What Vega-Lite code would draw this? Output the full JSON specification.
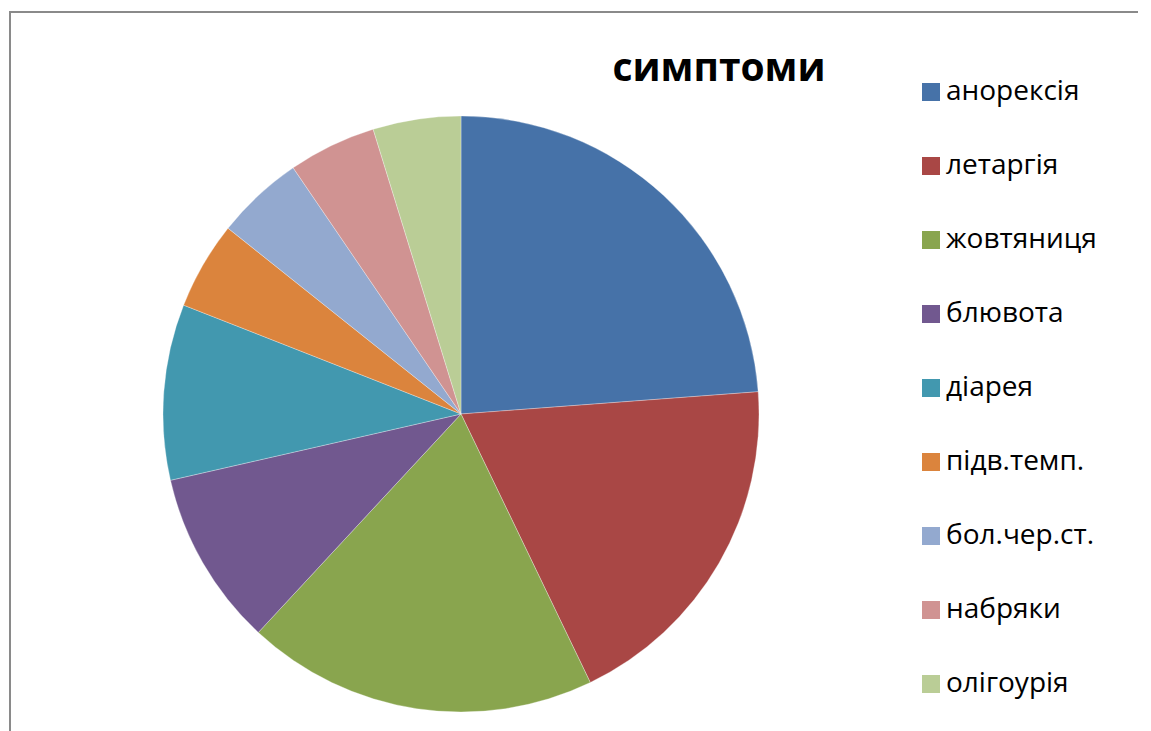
{
  "$schema": "https://vega.github.io/schema/vega-lite/v6.json",
  "autosize": {"type": "none"},
  "padding": {"left": 10, "top": 12, "right": 239, "bottom": 0},
  "width": 902,
  "height": 804,
  "background": "white",
  "view": {"stroke": "#8a8a8a", "strokeWidth": 2, "strokeDash": [902, 1708, 804]},
  "config": {
    "font": "Open Sans",
    "legend": {"strokeWidth": 2, "strokeDash": [287, 5000], "strokeColor": "#8a8a8a"}
  },
  "title": {
    "text": "симптоми",
    "orient": "top",
    "anchor": "middle",
    "dx": 258,
    "offset": -78,
    "fontSize": 39,
    "fontWeight": "bold",
    "font": "Open Sans",
    "color": "black"
  },
  "data": {
    "values": [
      {"i": 1, "symptom": "анорексія", "count": 5},
      {"i": 2, "symptom": "летаргія", "count": 4},
      {"i": 3, "symptom": "жовтяниця", "count": 4},
      {"i": 4, "symptom": "блювота", "count": 2},
      {"i": 5, "symptom": "діарея", "count": 2},
      {"i": 6, "symptom": "підв.темп.", "count": 1},
      {"i": 7, "symptom": "бол.чер.ст.", "count": 1},
      {"i": 8, "symptom": "набряки", "count": 1},
      {"i": 9, "symptom": "олігоурія", "count": 1}
    ]
  },
  "layer": [
    {
      "mark": {"type": "arc", "outerRadius": 298, "stroke": "#ffffff", "strokeWidth": 0.6, "strokeOpacity": 0.5},
      "encoding": {
        "theta": {"field": "count", "type": "quantitative", "stack": true},
        "order": {"field": "i", "type": "quantitative"},
        "color": {
          "field": "symptom",
          "type": "nominal",
          "sort": ["анорексія", "летаргія", "жовтяниця", "блювота", "діарея", "підв.темп.", "бол.чер.ст.", "набряки", "олігоурія"],
          "scale": {
            "domain": ["анорексія", "летаргія", "жовтяниця", "блювота", "діарея", "підв.темп.", "бол.чер.ст.", "набряки", "олігоурія"],
            "range": ["#4672A8", "#A94745", "#89A54E", "#71588F", "#4298AF", "#DB843D", "#93A9CF", "#D09392", "#BACD96"]
          },
          "legend": {
            "title": null,
            "orient": "none",
            "legendX": 841,
            "legendY": 0,
            "symbolType": "square",
            "symbolSize": 324,
            "symbolStrokeWidth": 0,
            "symbolOpacity": 1,
            "labelFontSize": 28,
            "labelFont": "Open Sans",
            "labelColor": "black",
            "labelOffset": 1,
            "labelLimit": 300,
            "rowPadding": 46,
            "padding": 66
          }
        }
      }
    }
  ]
}
